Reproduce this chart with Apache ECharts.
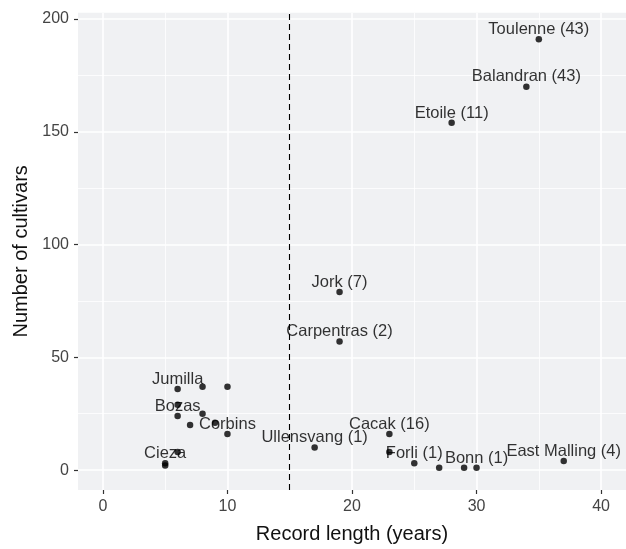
<!DOCTYPE html>
<html>
<head>
<meta charset="utf-8">
<script src="https://cdn.jsdelivr.net/npm/echarts@6/dist/echarts.min.js"></script>
<style>html,body{margin:0;padding:0;background:#fff}#chart{width:626px;height:549px}</style>
</head>
<body>
<div id="chart"></div>
<script>
// Data
const recordLength = [35, 34, 28, 19, 19, 17, 23, 23, 25, 27, 29, 30, 37, 6, 8, 10, 6, 6, 8, 7, 9, 10, 6, 5, 5];
const cultivars    = [191, 170, 154, 79, 57, 10, 16, 8, 3, 1, 1, 1, 4, 36, 37, 37, 29, 24, 25, 20, 21, 16, 8, 3, 2];
const siteLabels   = ['Toulenne (43)', 'Balandran (43)', 'Etoile (11)', 'Jork (7)', 'Carpentras (2)', 'Ullensvang (1)',
                      'Cacak (16)', '', 'Forli (1)', '', '', 'Bonn (1)', 'East Malling (4)', 'Jumilla', '', '',
                      '', 'Bozas', '', '', '', 'Corbins', '', 'Cieza', ''];
const xTicks = [0, 10, 20, 30, 40];
const xMinor = [5, 15, 25, 35];
const yTicks = [0, 50, 100, 150, 200];
const yMinor = [25, 75, 125, 175];
const threshold = 15;

const FONT = '"Liberation Sans", Arial, Helvetica, sans-serif';
const chart = echarts.init(document.getElementById('chart'), null, {renderer: 'canvas'});

const points = recordLength.map((x, i) => ({value: [x, cultivars[i]], name: siteLabels[i]}));

const gridLines = [];
xTicks.forEach(v => gridLines.push({xAxis: v, lineStyle: {width: 1.6}}));
xMinor.forEach(v => gridLines.push({xAxis: v, lineStyle: {width: 0.8}}));
yTicks.forEach(v => gridLines.push({yAxis: v, lineStyle: {width: 1.6}}));
yMinor.forEach(v => gridLines.push({yAxis: v, lineStyle: {width: 0.8}}));

const axisCommon = {
  type: 'value', nameLocation: 'middle',
  nameTextStyle: {fontFamily: FONT, fontSize: 20, color: '#111'},
  axisLine: {show: true, onZero: false, lineStyle: {color: 'rgba(0,0,0,0)', width: 0}},
  splitLine: {show: false}
};

chart.setOption({
  animation: false,
  backgroundColor: '#ffffff',
  grid: {
    left: 78, top: 12.7, width: 553.7, height: 480,
    show: true, backgroundColor: '#F0F1F3', borderWidth: 0
  },
  xAxis: Object.assign({}, axisCommon, {
    min: -2, max: 42,
    name: 'Record length (years)', nameGap: 34,
    axisTick: {show: true, customValues: xTicks, length: 4, lineStyle: {color: '#333', width: 1.2}},
    axisLabel: {customValues: xTicks, fontFamily: FONT, fontSize: 16, color: '#444', margin: 9}
  }),
  yAxis: Object.assign({}, axisCommon, {
    min: -8.82, max: 202.78,
    name: 'Number of cultivars', nameGap: 47,
    axisTick: {show: true, customValues: yTicks, length: 4, lineStyle: {color: '#333', width: 1.2}},
    axisLabel: {customValues: yTicks, fontFamily: FONT, fontSize: 16, color: '#444', margin: 9}
  }),
  series: [
    {
      type: 'line', data: [], z: 0, silent: true,
      markLine: {
        z: 0, silent: true, symbol: 'none', animation: false,
        label: {show: false},
        lineStyle: {color: '#ffffff', type: 'solid'},
        data: gridLines
      }
    },
    {
      type: 'line', data: [], z: 1, silent: true,
      markLine: {
        z: 1, silent: true, symbol: 'none', animation: false,
        label: {show: false},
        lineStyle: {color: '#000000', type: [6, 4], width: 1.1},
        data: [{xAxis: threshold}]
      }
    },
    {
      type: 'scatter', z: 3,
      symbol: 'circle', symbolSize: 6.5,
      itemStyle: {color: '#000000'},
      data: points,
      label: {
        show: true, position: 'top', distance: -2,
        formatter: p => p.name,
        fontFamily: FONT, fontSize: 16.5, color: '#000'
      },
      labelLayout: {hideOverlap: false}
    }
  ]
});
</script>
</body>
</html>
